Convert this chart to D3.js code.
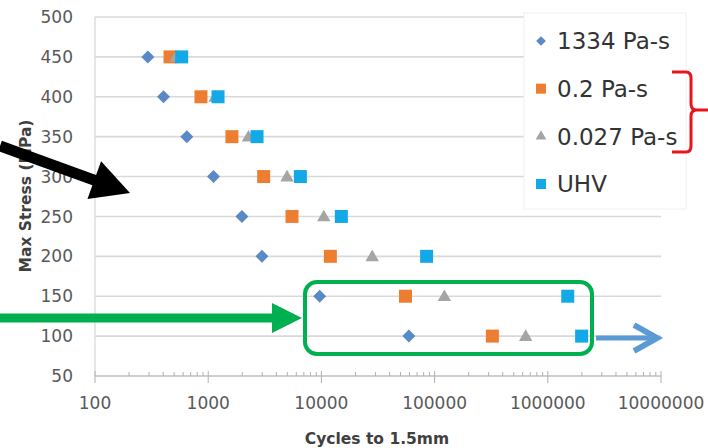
<!DOCTYPE html>
<html>
<head>
<meta charset="utf-8">
<script src="https://cdn.jsdelivr.net/npm/d3@7"></script>
<style>
  body { margin: 0; background: #fff; }
  svg { display: block; font-family: "DejaVu Sans", sans-serif; }
</style>
</head>
<body>
<div id="chart"></div>
<script>
// data
var stress = [450, 400, 350, 300, 250, 200, 150, 100];
var visc1334 = [293, 403, 647, 1114, 1986, 2985, 9660, 59300];
var visc02 = [460, 863, 1620, 3090, 5500, 12000, 55300, 324000];
var visc0027 = [520, 1150, 2270, 4970, 10500, 28100, 122000, 638000];
var uhv = [583, 1222, 2700, 6520, 15000, 85000, 1500000, 1990000];

var seriesNames = ["1334 Pa-s", "0.2 Pa-s", "0.027 Pa-s", "UHV"];
var seriesColors = ["#5a8ac6", "#ed7d31", "#a5a5a5", "#12a9e6"];
var xTicks = [100, 1000, 10000, 100000, 1000000, 10000000];
var yTicks = [50, 100, 150, 200, 250, 300, 350, 400, 450, 500];

var width = 708, height = 448;

var svg = d3.select("#chart")
    .append("svg")
    .attr("width", width)
    .attr("height", height);

var x = d3.scaleLog()
    .domain([100, 10000000])
    .range([95, 661]);

var y = d3.scaleLinear()
    .domain([50, 500])
    .range([376, 17]);

// gridlines
svg.selectAll("line.grid")
    .data(yTicks.slice(1))
    .enter()
    .append("line")
    .attr("class", "grid")
    .attr("x1", x(100))
    .attr("x2", x(10000000))
    .attr("y1", function(d) { return y(d); })
    .attr("y2", function(d) { return y(d); })
    .attr("stroke", "#d9d9d9")
    .attr("stroke-width", 1.6);

// y axis line
svg.append("line")
    .attr("x1", x(100)).attr("x2", x(100))
    .attr("y1", y(500)).attr("y2", y(50))
    .attr("stroke", "#d9d9d9")
    .attr("stroke-width", 1.3);

// x axis line + log ticks
svg.append("line")
    .attr("x1", x(100)).attr("x2", x(10000000))
    .attr("y1", y(50)).attr("y2", y(50))
    .attr("stroke", "#bfbfbf")
    .attr("stroke-width", 1.3);

var minor = [];
xTicks.slice(0, -1).forEach(function(dec) {
    for (var k = 2; k <= 9; k++) minor.push(dec * k);
});
svg.selectAll("line.minor")
    .data(minor)
    .enter()
    .append("line")
    .attr("x1", function(d) { return x(d); })
    .attr("x2", function(d) { return x(d); })
    .attr("y1", y(50) - 4)
    .attr("y2", y(50))
    .attr("stroke", "#b0b0b0")
    .attr("stroke-width", 1);
svg.selectAll("line.major")
    .data(xTicks)
    .enter()
    .append("line")
    .attr("x1", function(d) { return x(d); })
    .attr("x2", function(d) { return x(d); })
    .attr("y1", y(50) - 5)
    .attr("y2", y(50) + 7)
    .attr("stroke", "#b0b0b0")
    .attr("stroke-width", 1);

// tick labels
svg.selectAll("text.ylab")
    .data(yTicks)
    .enter()
    .append("text")
    .attr("x", 73)
    .attr("y", function(d) { return y(d); })
    .attr("dy", "0.36em")
    .attr("text-anchor", "end")
    .style("font-size", "17px")
    .style("fill", "#595959")
    .text(function(d) { return d; });

svg.selectAll("text.xlab")
    .data(xTicks)
    .enter()
    .append("text")
    .attr("x", function(d) { return x(d); })
    .attr("y", 403)
    .attr("dy", "0.36em")
    .attr("text-anchor", "middle")
    .style("font-size", "17px")
    .style("fill", "#595959")
    .text(function(d) { return d; });

// axis titles
svg.append("text")
    .attr("x", 377)
    .attr("y", 438)
    .attr("dy", "0.36em")
    .attr("text-anchor", "middle")
    .style("font-size", "15.5px")
    .style("font-weight", "bold")
    .style("fill", "#404040")
    .text("Cycles to 1.5mm");

svg.append("text")
    .attr("transform", "translate(25,196) rotate(-90)")
    .attr("dy", "0.36em")
    .attr("text-anchor", "middle")
    .style("font-size", "15.5px")
    .style("font-weight", "bold")
    .style("fill", "#404040")
    .text("Max Stress (MPa)");

// points
var allSeries = [visc1334, visc02, visc0027, uhv];
var shapes = [
    d3.symbol().type(d3.symbolDiamond2).size(108),
    d3.symbol().type(d3.symbolSquare).size(169),
    d3.symbol().type(d3.symbolTriangle).size(78),
    d3.symbol().type(d3.symbolSquare).size(169)
];

allSeries.forEach(function(vals, i) {
    svg.selectAll("path.s" + i)
        .data(vals)
        .enter()
        .append("path")
        .attr("class", "s" + i)
        .attr("transform", function(d, j) {
            return "translate(" + x(d) + "," + (y(stress[j]) + (i == 2 ? 1 : 0)) + ")";
        })
        .attr("d", shapes[i])
        .style("fill", seriesColors[i]);
});

// legend
svg.append("rect")
    .attr("x", 524).attr("y", 13)
    .attr("width", 162).attr("height", 196)
    .style("fill", "#fff")
    .style("stroke", "#f0f0f0");

var legendShapes = [
    d3.symbol().type(d3.symbolDiamond2).size(60),
    d3.symbol().type(d3.symbolSquare).size(100),
    d3.symbol().type(d3.symbolTriangle).size(50),
    d3.symbol().type(d3.symbolSquare).size(100)
];
var legendY = d3.scalePoint().domain(seriesNames).range([41, 184]);

svg.selectAll("path.leg")
    .data(seriesNames)
    .enter()
    .append("path")
    .attr("transform", function(d) { return "translate(541," + legendY(d) + ")"; })
    .attr("d", function(d, i) { return legendShapes[i](); })
    .style("fill", function(d, i) { return seriesColors[i]; });

svg.selectAll("text.leg")
    .data(seriesNames)
    .enter()
    .append("text")
    .attr("x", 557)
    .attr("y", function(d) { return legendY(d); })
    .attr("dy", "0.36em")
    .style("font-size", "23px")
    .style("fill", "#333333")
    .text(function(d) { return d; });

// annotations
function arrowHead(tipX, tipY, ang, len, half) {
    var bx = tipX - len * Math.cos(ang), by = tipY - len * Math.sin(ang);
    var px = -Math.sin(ang) * half, py = Math.cos(ang) * half;
    return "M" + tipX + "," + tipY + "L" + (bx + px) + "," + (by + py) + "L" + (bx - px) + "," + (by - py) + "Z";
}

// black arrow
var bAng = Math.atan2(193 - 146, 130 - 0);
svg.append("line")
    .attr("x1", 0).attr("y1", 146)
    .attr("x2", 130 - 30 * Math.cos(bAng)).attr("y2", 193 - 30 * Math.sin(bAng))
    .attr("stroke", "#000")
    .attr("stroke-width", 11);
svg.append("path")
    .attr("d", arrowHead(130, 193, bAng, 38, 20))
    .style("fill", "#000");

// green arrow + box
svg.append("line")
    .attr("x1", 0).attr("y1", 318)
    .attr("x2", 278).attr("y2", 318)
    .attr("stroke", "#00b050")
    .attr("stroke-width", 9);
svg.append("path")
    .attr("d", arrowHead(302, 318, 0, 30, 15))
    .style("fill", "#00b050");
svg.append("rect")
    .attr("x", 305).attr("y", 282)
    .attr("width", 287).attr("height", 72)
    .attr("rx", 12)
    .style("fill", "none")
    .style("stroke", "#00b050")
    .style("stroke-width", 4);

// blue arrow
svg.append("line")
    .attr("x1", 596).attr("y1", 338)
    .attr("x2", 656).attr("y2", 338)
    .attr("stroke", "#5b9bd5")
    .attr("stroke-width", 5);
svg.append("path")
    .attr("d", "M634,325 L657,338 L634,351")
    .style("fill", "none")
    .style("stroke", "#5b9bd5")
    .style("stroke-width", 6)
    .style("stroke-linejoin", "miter");

// red brace
svg.append("path")
    .attr("d", "M672,72 H686 Q691,72 691,78 V104 Q691,110 697,110 H708 M697,110 Q691,110 691,116 V146 Q691,152 686,152 H672")
    .style("fill", "none")
    .style("stroke", "#e8141c")
    .style("stroke-width", 3);
</script>
</body>
</html>
